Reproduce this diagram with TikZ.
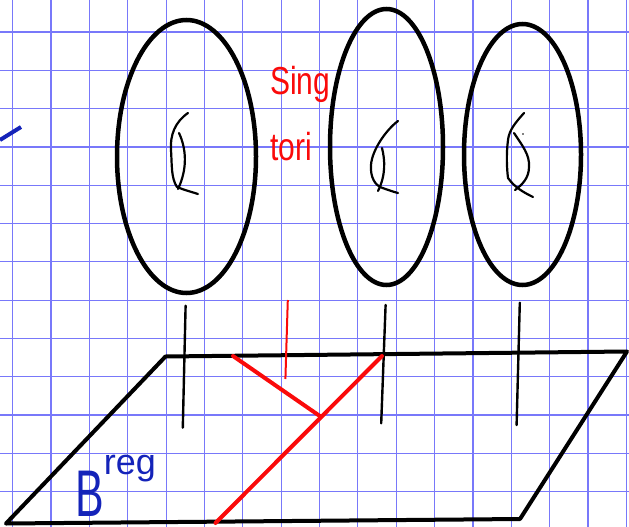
\documentclass[tikz,border=0pt]{standalone}
\usepackage{fontspec}
\setsansfont{Liberation Sans}
\usetikzlibrary{positioning}

\definecolor{gridblue}{RGB}{120,120,250}
\definecolor{inkblue}{RGB}{20,35,185}
\definecolor{inkred}{RGB}{250,10,10}

\begin{document}
\begin{tikzpicture}[
x=1pt, y=-1pt,
gridline/.style={gridblue, line width=1.2pt},
torus/.style={draw, line width=4.5pt},
curl/.style={line width=2.2pt, line cap=round, line join=round},
fibre/.style={line width=2.4pt, line cap=round},
plane/.style={line width=4pt, line join=round},
singline/.style={inkred, line width=4pt, line cap=round},
label/.style={font=\sffamily, inner sep=0pt, anchor=base west}
]
\useasboundingbox (0,0) rectangle (629,527);

% squared paper
\foreach \i in {0,...,16}
  \draw[gridline] (12.7+38.35*\i,0) -- (12.7+38.35*\i,527);
\foreach \j in {0,...,12}
  \draw[gridline] (0,32+38.3*\j) -- (629,32+38.3*\j);

% tori over the base
\draw[torus] (186.5,156.5) ellipse [x radius=69.5, y radius=136.5];
\draw[torus] (386.5,147) ellipse [x radius=56.5, y radius=138];
\draw[torus] (522.5,154.5) ellipse [x radius=58.5, y radius=130.5];

% holes
\draw[curl] (188,113) .. controls (175,122) and (170,135) .. (171,150)
  .. controls (172,165) and (171,178) .. (177,187)
  .. controls (184,190) and (192,192) .. (198,194);
\draw[curl] (179,133) .. controls (186,148) and (188,168) .. (178,189);
\draw[curl] (398,121) .. controls (386,130) and (372,150) .. (371,165)
  .. controls (370,178) and (376,185) .. (380,187)
  .. controls (388,190) and (394,192) .. (398,193);
\draw[curl] (382,148) .. controls (385,160) and (386,175) .. (378,191);
\draw[curl] (524,113) .. controls (516,122) and (509,130) .. (508,140)
  .. controls (506,155) and (507,170) .. (508,178)
  .. controls (515,188) and (525,193) .. (533,197);
\draw[curl] (514,133) .. controls (522,145) and (530,155) .. (529,167)
  .. controls (529,178) and (522,185) .. (515,190);
\fill (523,134) circle [radius=0.9];

% base
\coordinate (pNW) at (165.5,356.5);
\coordinate (pNE) at (627,351.5);
\coordinate (pSE) at (520,519);
\coordinate (pSW) at (6,523.5);
\draw[plane] (pNW) -- (pNE) -- (pSE) -- (pSW) -- cycle;

% fibres
\draw[fibre] (185.6,305.7) -- (182.8,427.7);
\draw[fibre] (385.6,305) -- (381.2,423.3);
\draw[fibre] (519.8,302.7) -- (516.6,425);

% singular locus
\coordinate (sJ) at (320.5,416.5);
\coordinate (sA) at (233,356);
\coordinate (sB) at (382,356);
\coordinate (sC) at (215.5,523);
\draw[singline] (sA) -- (sJ);
\draw[singline] (sB) -- (sC);
\draw[inkred, line width=2pt] (287.8,300) -- (285.4,379);

% labels
\node[label, inkred, font=\sffamily\fontsize{30}{30}\selectfont, yscale=1.3] (sing) at (270,95) {Sing};
\node[label, inkred, font=\sffamily\fontsize{30}{30}\selectfont, yscale=1.3] (tori) at (270,160) {tori};
\node[label, inkblue, font=\sffamily\fontsize{66}{66}\selectfont] (breg) at (75,516)
  {\scalebox{0.65}[1]{B}\raisebox{42pt}{\fontsize{36}{36}\selectfont reg}};
\draw[inkblue, line width=4pt] (0,140) -- (21,127);

\end{tikzpicture}
\end{document}
